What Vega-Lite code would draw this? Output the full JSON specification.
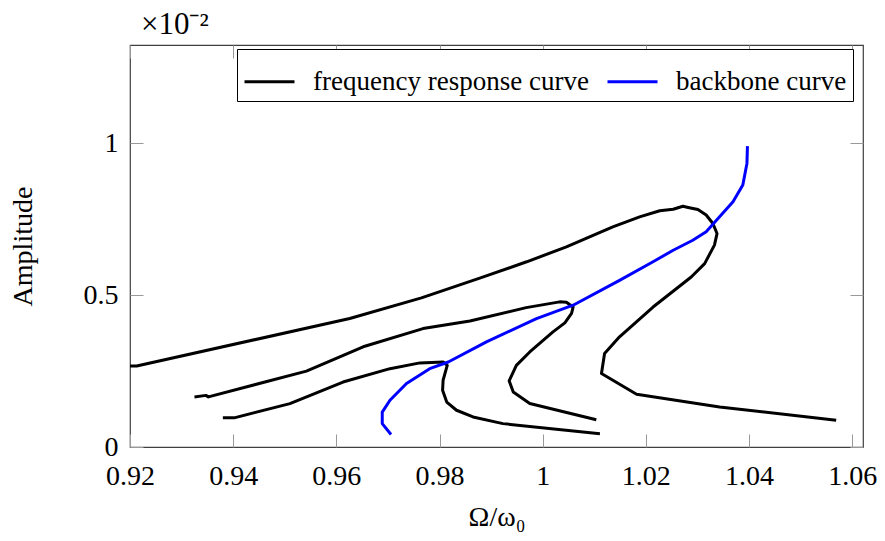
{
  "$schema": "https://vega.github.io/schema/vega-lite/v6.json",
  "width": 733,
  "height": 402,
  "autosize": {"type": "none"},
  "padding": {"left": 130, "top": 45, "right": 22, "bottom": 94},
  "background": "white",
  "config": {
    "view": {"stroke": "#404040", "strokeWidth": 1.2},
    "font": "Liberation Serif",
    "axis": {
      "grid": false,
      "domain": false,
      "tickColor": "#999999",
      "tickWidth": 1,
      "tickSize": -13,
      "labelFont": "Liberation Serif",
      "labelFontSize": 28,
      "labelColor": "#000000",
      "titleFont": "Liberation Serif",
      "titleFontSize": 28,
      "titleFontWeight": "normal",
      "titleColor": "#000000"
    },
    "legend": {
      "orient": "none",
      "legendX": 107,
      "legendY": 4,
      "direction": "horizontal",
      "strokeColor": "#000000",
      "fillColor": "#ffffff",
      "padding": 6,
      "symbolType": "stroke",
      "symbolSize": 2500,
      "symbolStrokeWidth": 3,
      "labelFont": "Liberation Serif",
      "labelFontSize": 27,
      "labelColor": "#000000",
      "labelOffset": 17,
      "columnPadding": 12,
      "labelLimit": 500
    }
  },
  "title": {
    "text": "×10⁻²",
    "anchor": "start",
    "frame": "group",
    "font": "Liberation Serif",
    "fontSize": 31,
    "fontWeight": "normal",
    "color": "#000000",
    "dx": 11,
    "offset": 4
  },
  "data": {
    "values": [
      {"c": "f1", "t": "frequency response curve", "i": 0, "x": 0.9200, "y": 0.267},
      {"c": "f1", "t": "frequency response curve", "i": 1, "x": 0.9213, "y": 0.267},
      {"c": "f1", "t": "frequency response curve", "i": 2, "x": 0.9626, "y": 0.423},
      {"c": "f1", "t": "frequency response curve", "i": 3, "x": 0.9765, "y": 0.491},
      {"c": "f1", "t": "frequency response curve", "i": 4, "x": 0.9878, "y": 0.556},
      {"c": "f1", "t": "frequency response curve", "i": 5, "x": 0.9969, "y": 0.610},
      {"c": "f1", "t": "frequency response curve", "i": 6, "x": 1.0046, "y": 0.659},
      {"c": "f1", "t": "frequency response curve", "i": 7, "x": 1.0136, "y": 0.725},
      {"c": "f1", "t": "frequency response curve", "i": 8, "x": 1.0188, "y": 0.758},
      {"c": "f1", "t": "frequency response curve", "i": 9, "x": 1.0227, "y": 0.778},
      {"c": "f1", "t": "frequency response curve", "i": 10, "x": 1.0253, "y": 0.783},
      {"c": "f1", "t": "frequency response curve", "i": 11, "x": 1.0272, "y": 0.793},
      {"c": "f1", "t": "frequency response curve", "i": 12, "x": 1.0282, "y": 0.789},
      {"c": "f1", "t": "frequency response curve", "i": 13, "x": 1.0301, "y": 0.782},
      {"c": "f1", "t": "frequency response curve", "i": 14, "x": 1.0317, "y": 0.764},
      {"c": "f1", "t": "frequency response curve", "i": 15, "x": 1.0330, "y": 0.736},
      {"c": "f1", "t": "frequency response curve", "i": 16, "x": 1.0338, "y": 0.703},
      {"c": "f1", "t": "frequency response curve", "i": 17, "x": 1.0333, "y": 0.665},
      {"c": "f1", "t": "frequency response curve", "i": 18, "x": 1.0314, "y": 0.604},
      {"c": "f1", "t": "frequency response curve", "i": 19, "x": 1.0288, "y": 0.560},
      {"c": "f1", "t": "frequency response curve", "i": 20, "x": 1.0214, "y": 0.461},
      {"c": "f1", "t": "frequency response curve", "i": 21, "x": 1.0149, "y": 0.363},
      {"c": "f1", "t": "frequency response curve", "i": 22, "x": 1.0120, "y": 0.308},
      {"c": "f1", "t": "frequency response curve", "i": 23, "x": 1.0114, "y": 0.242},
      {"c": "f1", "t": "frequency response curve", "i": 24, "x": 1.0182, "y": 0.174},
      {"c": "f1", "t": "frequency response curve", "i": 25, "x": 1.0343, "y": 0.132},
      {"c": "f1", "t": "frequency response curve", "i": 26, "x": 1.0569, "y": 0.088},

      {"c": "f2", "t": "frequency response curve", "i": 0, "x": 0.9325, "y": 0.165},
      {"c": "f2", "t": "frequency response curve", "i": 1, "x": 0.9347, "y": 0.170},
      {"c": "f2", "t": "frequency response curve", "i": 2, "x": 0.9352, "y": 0.165},
      {"c": "f2", "t": "frequency response curve", "i": 3, "x": 0.9542, "y": 0.250},
      {"c": "f2", "t": "frequency response curve", "i": 4, "x": 0.9652, "y": 0.330},
      {"c": "f2", "t": "frequency response curve", "i": 5, "x": 0.9768, "y": 0.390},
      {"c": "f2", "t": "frequency response curve", "i": 6, "x": 0.9859, "y": 0.415},
      {"c": "f2", "t": "frequency response curve", "i": 7, "x": 0.9968, "y": 0.459},
      {"c": "f2", "t": "frequency response curve", "i": 8, "x": 1.0033, "y": 0.478},
      {"c": "f2", "t": "frequency response curve", "i": 9, "x": 1.0046, "y": 0.477},
      {"c": "f2", "t": "frequency response curve", "i": 10, "x": 1.0059, "y": 0.461},
      {"c": "f2", "t": "frequency response curve", "i": 11, "x": 1.0056, "y": 0.440},
      {"c": "f2", "t": "frequency response curve", "i": 12, "x": 1.0043, "y": 0.409},
      {"c": "f2", "t": "frequency response curve", "i": 13, "x": 1.0020, "y": 0.379},
      {"c": "f2", "t": "frequency response curve", "i": 14, "x": 0.9975, "y": 0.313},
      {"c": "f2", "t": "frequency response curve", "i": 15, "x": 0.9949, "y": 0.269},
      {"c": "f2", "t": "frequency response curve", "i": 16, "x": 0.9935, "y": 0.218},
      {"c": "f2", "t": "frequency response curve", "i": 17, "x": 0.9943, "y": 0.181},
      {"c": "f2", "t": "frequency response curve", "i": 18, "x": 0.9975, "y": 0.143},
      {"c": "f2", "t": "frequency response curve", "i": 19, "x": 1.0104, "y": 0.090},

      {"c": "f3", "t": "frequency response curve", "i": 0, "x": 0.9380, "y": 0.096},
      {"c": "f3", "t": "frequency response curve", "i": 1, "x": 0.9402, "y": 0.096},
      {"c": "f3", "t": "frequency response curve", "i": 2, "x": 0.9510, "y": 0.143},
      {"c": "f3", "t": "frequency response curve", "i": 3, "x": 0.9613, "y": 0.214},
      {"c": "f3", "t": "frequency response curve", "i": 4, "x": 0.9704, "y": 0.258},
      {"c": "f3", "t": "frequency response curve", "i": 5, "x": 0.9762, "y": 0.277},
      {"c": "f3", "t": "frequency response curve", "i": 6, "x": 0.9807, "y": 0.280},
      {"c": "f3", "t": "frequency response curve", "i": 7, "x": 0.9815, "y": 0.269},
      {"c": "f3", "t": "frequency response curve", "i": 8, "x": 0.9807, "y": 0.220},
      {"c": "f3", "t": "frequency response curve", "i": 9, "x": 0.9806, "y": 0.187},
      {"c": "f3", "t": "frequency response curve", "i": 10, "x": 0.9814, "y": 0.148},
      {"c": "f3", "t": "frequency response curve", "i": 11, "x": 0.9833, "y": 0.121},
      {"c": "f3", "t": "frequency response curve", "i": 12, "x": 0.9865, "y": 0.099},
      {"c": "f3", "t": "frequency response curve", "i": 13, "x": 0.9923, "y": 0.077},
      {"c": "f3", "t": "frequency response curve", "i": 14, "x": 1.0111, "y": 0.044},

      {"c": "bb", "t": "backbone curve", "i": 0, "x": 0.9706, "y": 0.041},
      {"c": "bb", "t": "backbone curve", "i": 1, "x": 0.9689, "y": 0.077},
      {"c": "bb", "t": "backbone curve", "i": 2, "x": 0.9689, "y": 0.115},
      {"c": "bb", "t": "backbone curve", "i": 3, "x": 0.9704, "y": 0.154},
      {"c": "bb", "t": "backbone curve", "i": 4, "x": 0.9736, "y": 0.209},
      {"c": "bb", "t": "backbone curve", "i": 5, "x": 0.9781, "y": 0.258},
      {"c": "bb", "t": "backbone curve", "i": 6, "x": 0.9817, "y": 0.280},
      {"c": "bb", "t": "backbone curve", "i": 7, "x": 0.9891, "y": 0.346},
      {"c": "bb", "t": "backbone curve", "i": 8, "x": 0.9988, "y": 0.423},
      {"c": "bb", "t": "backbone curve", "i": 9, "x": 1.0059, "y": 0.467},
      {"c": "bb", "t": "backbone curve", "i": 10, "x": 1.0149, "y": 0.549},
      {"c": "bb", "t": "backbone curve", "i": 11, "x": 1.0214, "y": 0.610},
      {"c": "bb", "t": "backbone curve", "i": 12, "x": 1.0253, "y": 0.648},
      {"c": "bb", "t": "backbone curve", "i": 13, "x": 1.0291, "y": 0.681},
      {"c": "bb", "t": "backbone curve", "i": 14, "x": 1.0317, "y": 0.709},
      {"c": "bb", "t": "backbone curve", "i": 15, "x": 1.0346, "y": 0.764},
      {"c": "bb", "t": "backbone curve", "i": 16, "x": 1.0369, "y": 0.808},
      {"c": "bb", "t": "backbone curve", "i": 17, "x": 1.0388, "y": 0.863},
      {"c": "bb", "t": "backbone curve", "i": 18, "x": 1.0396, "y": 0.934},
      {"c": "bb", "t": "backbone curve", "i": 19, "x": 1.0397, "y": 0.991}
    ]
  },
  "layer": [
    {
      "mark": {"type": "line", "strokeWidth": 3, "strokeJoin": "round", "clip": true},
      "encoding": {
        "x": {
          "field": "x", "type": "quantitative",
          "scale": {"domain": [0.92, 1.0621], "nice": false, "zero": false},
          "axis": {
            "orient": "bottom",
            "values": [0.92, 0.94, 0.96, 0.98, 1, 1.02, 1.04, 1.06],
            "format": "~g",
            "labelPadding": 28,
            "labelFlush": false,
            "title": "Ω/ω₀",
            "titlePadding": 13
          }
        },
        "y": {
          "field": "y", "type": "quantitative",
          "scale": {"domain": [0, 1.324], "nice": false, "zero": false},
          "axis": {
            "orient": "left",
            "values": [0, 0.5, 1],
            "format": "~g",
            "labelPadding": 25,
            "labelFlush": false,
            "title": "Amplitude",
            "titlePadding": 46
          }
        },
        "color": {
          "field": "t", "type": "nominal",
          "scale": {"domain": ["frequency response curve", "backbone curve"], "range": ["#000000", "#0000ff"]},
          "legend": {"title": null}
        },
        "detail": {"field": "c"},
        "order": {"field": "i", "type": "quantitative"}
      }
    },
    {
      "mark": {"type": "point", "opacity": 0},
      "encoding": {
        "x": {
          "field": "x", "type": "quantitative",
          "scale": {"domain": [0.92, 1.0621], "nice": false, "zero": false},
          "axis": {"orient": "top", "values": [0.92, 0.94, 0.96, 0.98, 1, 1.02, 1.04, 1.06], "labels": false, "title": null}
        },
        "y": {
          "field": "y", "type": "quantitative",
          "scale": {"domain": [0, 1.324], "nice": false, "zero": false},
          "axis": {"orient": "right", "values": [0, 0.5, 1], "labels": false, "title": null}
        }
      }
    }
  ],
  "resolve": {"scale": {"x": "independent", "y": "independent"}}
}
